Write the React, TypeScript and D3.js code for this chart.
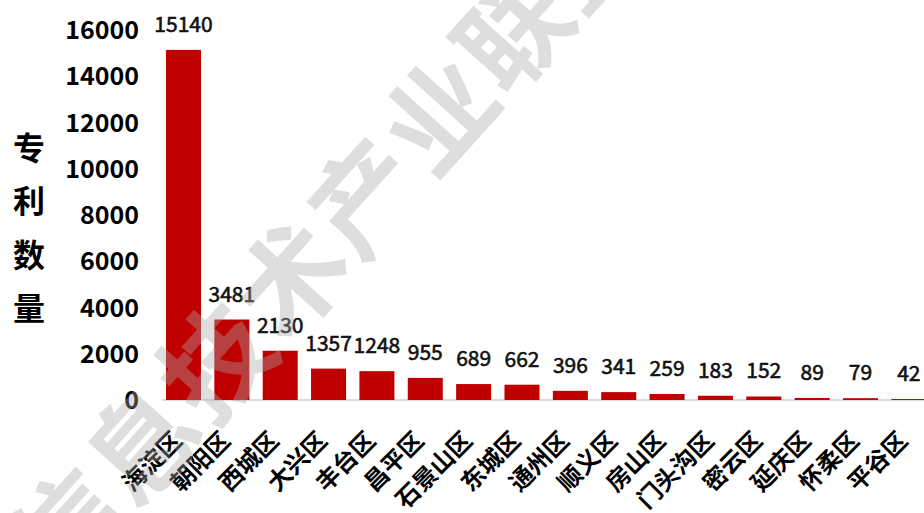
import { useEffect, useRef } from 'react';
import * as d3 from 'd3';

const districts = [
  '海淀区', '朝阳区', '西城区', '大兴区', '丰台区', '昌平区', '石景山区', '东城区',
  '通州区', '顺义区', '房山区', '门头沟区', '密云区', '延庆区', '怀柔区', '平谷区',
];
const patents = [15140, 3481, 2130, 1357, 1248, 955, 689, 662, 396, 341, 259, 183, 152, 89, 79, 42];
const yTicks = [0, 2000, 4000, 6000, 8000, 10000, 12000, 14000, 16000];
const yTitle = ['专', '利', '数', '量'];
const watermark = '信息技术产业联盟';

const WIDTH = 924;
const HEIGHT = 513;
const FONT = '"Noto Sans CJK SC", "Noto Sans", sans-serif';

export default function App() {
  const svgRef = useRef<SVGSVGElement>(null);

  useEffect(() => {
    if (!svgRef.current) return;
    const svg = d3.select(svgRef.current);
    svg.selectAll('*').remove();

    const x = d3.scaleBand<string>()
      .domain(districts)
      .range([159.3, 159.3 + 48.36 * 16])
      .paddingInner(0.276)
      .paddingOuter(0.138);

    const y = d3.scaleLinear().domain([0, 16000]).range([400, 30]);

    // baseline
    svg.append('line')
      .attr('x1', 162)
      .attr('x2', WIDTH)
      .attr('y1', y(0))
      .attr('y2', y(0))
      .attr('stroke', '#d0d0d0')
      .attr('stroke-width', 1.5);

    // bars
    svg.selectAll('.bar')
      .data(patents)
      .enter().append('rect')
      .attr('class', 'bar')
      .attr('x', (_, i) => x(districts[i]) || 0)
      .attr('width', x.bandwidth())
      .attr('y', d => y(d))
      .attr('height', d => y(0) - y(d))
      .attr('fill', '#C00000');

    // value labels
    svg.selectAll('.val')
      .data(patents)
      .enter().append('text')
      .attr('class', 'val')
      .attr('x', (_, i) => (x(districts[i]) || 0) + x.bandwidth() / 2)
      .attr('y', d => y(d) - 18)
      .attr('text-anchor', 'middle')
      .style('font-family', FONT)
      .style('font-size', '21px')
      .style('font-weight', 400)
      .style('fill', '#111')
      .style('stroke', '#111')
      .style('stroke-width', 0.6)
      .text(d => String(d));

    // y tick labels
    svg.selectAll('.ytick')
      .data(yTicks)
      .enter().append('text')
      .attr('class', 'ytick')
      .attr('x', 139)
      .attr('y', d => y(d))
      .attr('dy', '0.36em')
      .attr('text-anchor', 'end')
      .style('font-family', FONT)
      .style('font-size', '25px')
      .style('font-weight', 700)
      .style('fill', '#000')
      .text(d => String(d));

    // y title, stacked characters
    svg.selectAll('.ytitle')
      .data(yTitle)
      .enter().append('text')
      .attr('class', 'ytitle')
      .attr('x', 29)
      .attr('y', (_, i) => 148 + i * 53.5)
      .attr('dy', '0.36em')
      .attr('text-anchor', 'middle')
      .style('font-family', FONT)
      .style('font-size', '32px')
      .style('font-weight', 700)
      .style('fill', '#000')
      .text(d => d);

    // x labels, rotated
    svg.selectAll('.xlab')
      .data(districts)
      .enter().append('text')
      .attr('class', 'xlab')
      .attr('transform', d => `translate(${(x(d) || 0) + x.bandwidth() / 2},442) rotate(-45)`)
      .attr('text-anchor', 'end')
      .style('font-family', FONT)
      .style('font-size', '24px')
      .style('font-weight', 700)
      .style('fill', '#000')
      .text(d => d);

    // watermark on top
    svg.append('text')
      .attr('transform', 'translate(330,238) rotate(-48)')
      .attr('text-anchor', 'middle')
      .attr('dy', '0.36em')
      .style('font-family', FONT)
      .style('font-size', '108px')
      .style('font-weight', 700)
      .style('letter-spacing', '3px')
      .style('fill', '#a9a9a9')
      .style('opacity', 0.38)
      .text(watermark);
  }, []);

  return (
    <svg
      ref={svgRef}
      width={WIDTH}
      height={HEIGHT}
      style={{ position: 'absolute', left: 0, top: 0, background: '#fff' }}
    />
  );
}
